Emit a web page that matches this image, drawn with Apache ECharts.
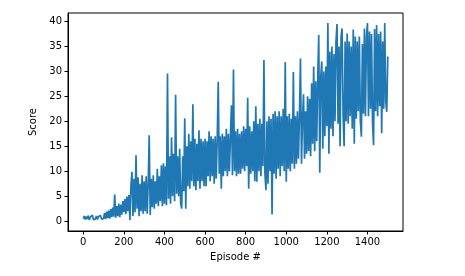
<!DOCTYPE html>
<html>
<head>
<meta charset="utf-8">
<script src="https://cdn.jsdelivr.net/npm/echarts@6/dist/echarts.min.js"></script>
<style>html,body{margin:0;padding:0;background:#fff}#c{width:465px;height:276px}</style>
</head>
<body>
<div id="c"></div>
<script>
// Episode numbers: one reading every 5 episodes
const EPISODE_START = 0;
const EPISODE_STEP = 5;
const xTickLabels = [0, 200, 400, 600, 800, 1000, 1200, 1400];
const yTickLabels = [0, 5, 10, 15, 20, 25, 30, 35, 40];
// Scores
const scores = [
  0.5,1.0,0.3,0.9,0.4,1.1,0.2,0.8,0.5,1.2,0.3,0.7,0.4,1.0,0.3,0.9,0.5,1.1,0.4,0.8,
  0.5,1.6,0.4,1.9,0.6,2.1,0.5,2.4,0.8,2.7,0.9,5.3,0.7,3.0,1.0,3.5,0.8,3.3,1.3,4.0,
  1.8,4.4,1.4,4.9,2.0,5.2,0.2,7.0,9.9,1.0,8.5,1.8,13.2,2.5,8.8,1.0,7.5,2.0,9.2,1.5,
  8.0,2.0,9.0,1.5,7.5,17.2,1.2,8.5,2.8,9.2,2.5,8.0,3.5,10.5,3.0,9.0,4.0,11.2,3.0,11.6,
  3.5,11.0,3.2,29.6,4.5,13.0,3.5,16.8,5.0,13.5,4.0,25.3,5.5,13.0,5.0,14.5,3.5,2.5,13.0,6.0,
  20.6,2.5,15.0,7.0,17.5,6.5,16.0,8.0,23.4,7.0,16.5,6.2,15.5,8.0,18.2,6.5,16.5,8.0,16.0,7.0,
  16.5,7.0,16.0,9.0,18.0,8.0,17.0,9.0,16.5,7.5,17.0,8.5,16.5,27.9,9.5,17.0,6.5,17.5,9.0,17.0,
  10.0,18.5,9.0,17.5,10.0,17.0,23.2,9.2,30.4,10.0,18.0,9.0,18.5,9.5,17.5,9.5,18.0,10.5,19.0,10.0,
  18.5,11.0,24.7,6.5,19.0,9.5,18.0,10.0,20.0,8.0,23.0,7.9,19.5,10.0,20.5,9.0,19.5,11.0,32.3,9.5,
  6.2,20.0,7.5,21.0,10.0,20.5,1.3,21.5,9.5,22.0,8.5,21.0,10.5,22.0,9.0,21.0,11.0,22.5,10.0,31.9,
  7.9,21.0,10.5,21.5,10.0,20.5,11.5,29.9,10.5,21.0,11.5,22.0,12.5,21.0,32.6,11.5,20.5,25.4,12.5,22.0,
  13.5,25.0,14.0,24.5,13.0,27.6,15.5,31.0,14.0,28.0,16.0,28.5,37.3,9.7,29.0,32.0,14.5,30.0,17.0,31.0,
  19.0,39.7,13.5,34.0,18.5,35.0,17.0,33.5,20.0,36.0,39.5,19.5,35.0,15.0,37.0,38.6,21.0,15.0,36.0,20.0,
  37.6,19.5,36.0,21.0,35.0,18.5,38.4,15.5,37.0,20.5,36.0,22.0,37.0,20.0,16.9,35.5,21.5,38.6,21.0,37.0,
  39.7,21.0,38.0,22.5,37.5,19.5,15.2,38.5,22.0,39.3,21.0,37.5,23.0,38.0,17.6,36.0,22.5,39.7,24.0,21.9,
  33.0
];
const episodes = scores.map((_, i) => EPISODE_START + i * EPISODE_STEP);
const seriesData = episodes.map((e, i) => [e, scores[i]]);

const chart = echarts.init(document.getElementById('c'), null, {renderer: 'canvas'});
const font = 'DejaVu Sans';
chart.setOption({
  animation: false,
  backgroundColor: '#fff',
  grid: {left: 68, top: 13, right: 62, bottom: 45, show: true, borderColor: '#000', borderWidth: 1, backgroundColor: 'transparent'},
  xAxis: {
    type: 'value', min: -75, max: 1575,
    axisLine: {show: true, onZero: false, lineStyle: {color: '#000', width: 1}},
    axisTick: {show: true, length: 3.5, customValues: xTickLabels, lineStyle: {color: '#000'}},
    axisLabel: {customValues: xTickLabels, formatter: v => String(v), color: '#000', fontFamily: font, fontSize: 10, margin: 6},
    splitLine: {show: false},
    name: 'Episode #', nameLocation: 'middle', nameGap: 21,
    nameTextStyle: {color: '#000', fontFamily: font, fontSize: 10}
  },
  yAxis: {
    type: 'value', min: -1.985, max: 41.7,
    axisLine: {show: true, onZero: false, lineStyle: {color: '#000', width: 1}},
    axisTick: {show: true, length: 3.5, customValues: yTickLabels, lineStyle: {color: '#000'}},
    axisLabel: {customValues: yTickLabels, formatter: v => String(v), color: '#000', fontFamily: font, fontSize: 10, margin: 6},
    splitLine: {show: false},
    name: 'Score', nameLocation: 'middle', nameGap: 21, nameRotate: 90,
    nameTextStyle: {color: '#000', fontFamily: font, fontSize: 10}
  },
  series: [{
    type: 'line', data: seriesData, showSymbol: false, symbol: 'none',
    lineStyle: {color: '#1f77b4', width: 1.7}, itemStyle: {color: '#1f77b4'}
  }]
});
</script>
</body>
</html>
